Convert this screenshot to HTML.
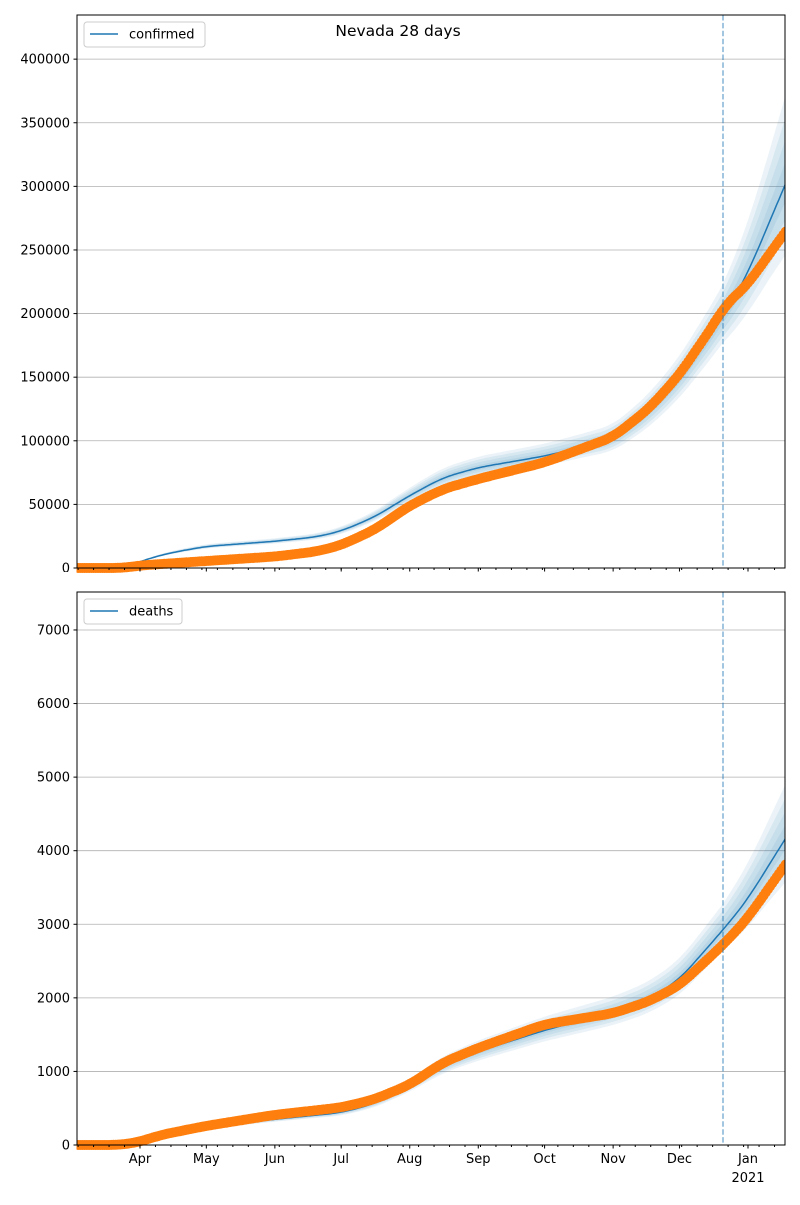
<!DOCTYPE html>
<html><head><meta charset="utf-8"><style>
body{margin:0;background:#fff;}
svg text{font-family:"DejaVu Sans","Liberation Sans",sans-serif;font-size:13px;fill:#000;}
</style></head><body>
<svg id="s" width="800" height="1200" xmlns="http://www.w3.org/2000/svg"></svg>
<script>
const S=document.getElementById('s');
let h='';
const X0=77,X1=785,D0=-29;
const K=608/275;
const px=d=>140+d*K;
const months=[['Apr',0],['May',30],['Jun',61],['Jul',91],['Aug',122],['Sep',153],['Oct',183],['Nov',214],['Dec',244],['Jan',275]];
const DEND=(785-140)/K;
function series(pts,win){
  const out=[];const L=pts.length-1;
  for(let d=D0-10;d<=DEND+10;d++){let v;
    if(d<=pts[0][0])v=pts[0][1];
    else if(d>=pts[L][0]){const sl=(pts[L][1]-pts[L-1][1])/(pts[L][0]-pts[L-1][0]);v=pts[L][1]+sl*(d-pts[L][0]);}
    else for(let i=0;i<L;i++){if(d>=pts[i][0]&&d<=pts[i+1][0]){const t=(d-pts[i][0])/(pts[i+1][0]-pts[i][0]);v=pts[i][1]+t*(pts[i+1][1]-pts[i][1]);break;}}
    out.push([d,v]);}
  const sm=out.map((p,i)=>{let s=0,n=0;for(let k=-win;k<=win;k++){const j=i+k;if(j>=0&&j<out.length){s+=out[j][1];n++;}}return [p[0],s/n];});
  return sm.filter(p=>p[0]>=D0&&p[0]<=DEND+1);
}
function panel(top,bot,ymax,ticks,model,obs,label,lw,bandf){
  const py=v=>bot-v*(bot-top)/ymax;
  ticks.forEach(t=>{const y=py(t);if(t>0)h+=`<line x1="${X0}" x2="${X1}" y1="${y}" y2="${y}" stroke="#b0b0b0" stroke-width="0.8"/>`;});
  const m=series(model,6),o=series(obs,5);
  [1,0.75,0.5,0.25].forEach(f=>{
    let up=[],lo=[];
    m.forEach(([d,v])=>{if(d<-10)return;let w=bandf(d)*f;up.push(`${px(d).toFixed(1)},${py(v*(1+w)).toFixed(1)}`);lo.push(`${px(d).toFixed(1)},${py(v*(1-w*0.8)).toFixed(1)}`);});
    h+=`<polygon points="${up.join(' ')} ${lo.reverse().join(' ')}" fill="#1f77b4" fill-opacity="0.09"/>`;
  });
  h+=`<polyline points="${m.map(([d,v])=>px(d).toFixed(1)+','+py(v).toFixed(1)).join(' ')}" fill="none" stroke="#1f77b4" stroke-width="1.5"/>`;
  o.forEach(([d,v])=>{if(px(d)<X0-1||px(d)>X1+2)return;h+=`<circle cx="${px(d).toFixed(1)}" cy="${py(v).toFixed(1)}" r="5" fill="#ff7f0e"/>`;});
  h+=`<line x1="723" x2="723" y1="${top}" y2="${bot}" stroke="#1f77b4" stroke-opacity="0.55" stroke-width="1.5" stroke-dasharray="5.5,2.4"/>`;
  h+=`<rect x="0" y="${top-20}" width="${X0-0.5}" height="${bot-top+40}" fill="#fff"/><rect x="${X1+0.5}" y="${top-20}" width="20" height="${bot-top+40}" fill="#fff"/>`;
  ticks.forEach(t=>{const y=py(t);h+=`<line x1="${X0-3.5}" x2="${X0}" y1="${y}" y2="${y}" stroke="#000"/><text x="${X0-7}" y="${y+4.5}" text-anchor="end">${t}</text>`;});
  for(let d=-28;d<=DEND;d+=7){const x=px(d);h+=`<line x1="${x}" x2="${x}" y1="${bot}" y2="${bot+2}" stroke="#000"/>`;}
  months.forEach(([n,d])=>{const x=px(d);h+=`<line x1="${x}" x2="${x}" y1="${bot}" y2="${bot+3.5}" stroke="#000"/>`;if(top>500){h+=`<text x="${x}" y="${bot+18}" text-anchor="middle">${n}</text>`;}});
  if(top>500)h+=`<text x="${px(275)}" y="${bot+37}" text-anchor="middle">2021</text>`;
  h+=`<rect x="${X0}" y="${top}" width="${X1-X0}" height="${bot-top}" fill="none" stroke="#000" stroke-width="1"/>`;
  h+=`<rect x="84" y="${top+7}" width="${lw}" height="25" rx="3" fill="#fff" fill-opacity="0.8" stroke="#ccc"/><line x1="90" x2="118" y1="${top+19}" y2="${top+19}" stroke="#1f77b4" stroke-width="1.5"/><text x="129" y="${top+23.5}">${label}</text>`;
}
const bf=d=>d<0?0.12:(d<200?0.11:(d<263?0.11+(d-200)*0.0003:0.13+(d-263)*0.0035));
panel(15,568,434700,[0,50000,100000,150000,200000,250000,300000,350000,400000],
 [[-29,0],[-9,0],[-4,2500],[5,8000],[14,12000],[30,17000],[61,21000],[80,24500],[91,29000],[106,40000],[122,57000],[137,71000],[153,79000],[183,88000],[214,101000],[230,122000],[244,148000],[263,195000],[274,228000],[291,298000]],
 [[-29,0],[-8,0],[0,2000],[30,5500],[61,9000],[80,13000],[91,18000],[106,30000],[122,49000],[137,62000],[153,70000],[183,83000],[214,103000],[230,125000],[244,152000],[262,198000],[264,206000],[274,221000],[291,262000]],
 'confirmed',121,bf);
panel(592,1145,7516,[0,1000,2000,3000,4000,5000,6000,7000],
 [[-29,0],[-10,0],[-2,20],[10,130],[30,240],[61,350],[91,440],[106,560],[122,800],[137,1080],[153,1270],[183,1560],[214,1800],[230,1980],[244,2250],[263,2900],[274,3300],[291,4120]],
 [[-29,0],[-10,0],[-2,30],[10,140],[30,260],[61,410],[91,510],[106,620],[122,820],[137,1120],[153,1320],[183,1640],[214,1790],[230,1950],[244,2170],[263,2700],[274,3050],[291,3770]],
 'deaths',98,d=>d<263?0.12:0.12+(d-263)*0.002);
h+=`<text x="398" y="36" text-anchor="middle" style="font-size:15.5px">Nevada 28 days</text>`;
S.innerHTML=h;
</script>
</body></html>
